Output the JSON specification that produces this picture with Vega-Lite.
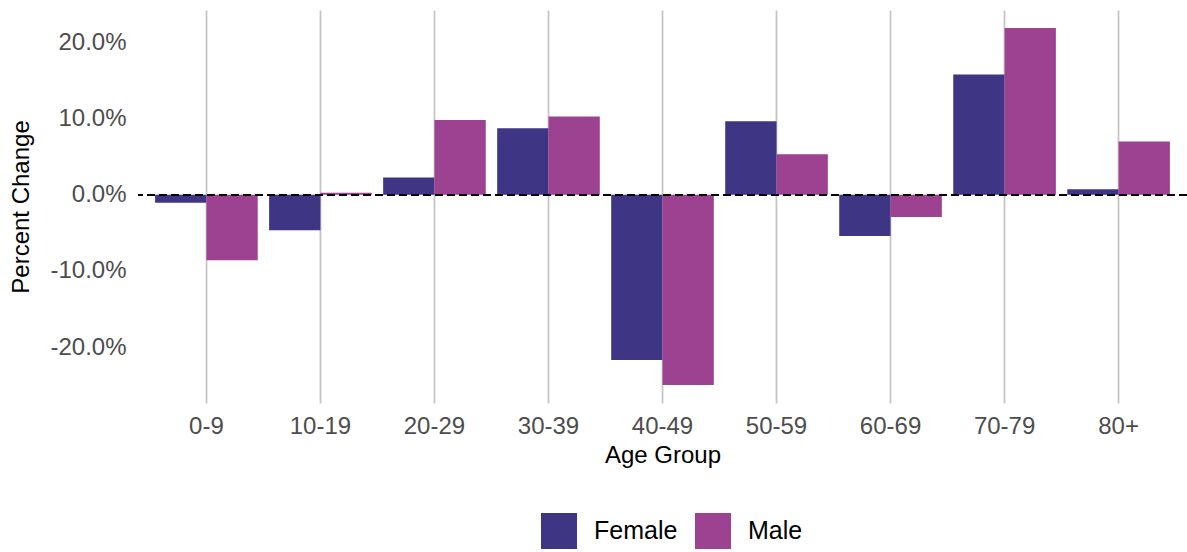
{
  "$schema": "https://vega.github.io/schema/vega-lite/v6.json",
  "width": 1049,
  "height": 393,
  "autosize": {"type": "none"},
  "padding": {"left": 138, "top": 10, "right": 0, "bottom": 149},
  "background": "white",
  "config": {"view": {"stroke": null}, "font": "Liberation Sans"},
  "data": {
    "values": [
      {"age": "0-9", "sex": "Female", "change": -0.0106},
      {"age": "0-9", "sex": "Male", "change": -0.086},
      {"age": "10-19", "sex": "Female", "change": -0.0468},
      {"age": "10-19", "sex": "Male", "change": 0.0026},
      {"age": "20-29", "sex": "Female", "change": 0.0227},
      {"age": "20-29", "sex": "Male", "change": 0.098},
      {"age": "30-39", "sex": "Female", "change": 0.0873},
      {"age": "30-39", "sex": "Male", "change": 0.1026},
      {"age": "40-49", "sex": "Female", "change": -0.217},
      {"age": "40-49", "sex": "Male", "change": -0.25},
      {"age": "50-59", "sex": "Female", "change": 0.0965},
      {"age": "50-59", "sex": "Male", "change": 0.0532},
      {"age": "60-69", "sex": "Female", "change": -0.0542},
      {"age": "60-69", "sex": "Male", "change": -0.0294},
      {"age": "70-79", "sex": "Female", "change": 0.1577},
      {"age": "70-79", "sex": "Male", "change": 0.219},
      {"age": "80+", "sex": "Female", "change": 0.0073},
      {"age": "80+", "sex": "Male", "change": 0.0699}
    ]
  },
  "layer": [
    {
      "mark": {"type": "bar"},
      "encoding": {
        "x": {
          "field": "age",
          "type": "nominal",
          "sort": ["0-9", "10-19", "20-29", "30-39", "40-49", "50-59", "60-69", "70-79", "80+"],
          "scale": {"paddingInner": 0.1, "paddingOuter": 0.15},
          "axis": {
            "title": "Age Group",
            "labelAngle": 0,
            "grid": true,
            "gridColor": "#c6c6c6",
            "gridWidth": 1.8,
            "bandPosition": 0.5,
            "ticks": false,
            "tickSize": 0,
            "domain": false,
            "labelPadding": 11,
            "labelFontSize": 24,
            "labelColor": "#4d4d4d",
            "titleFontSize": 24,
            "titleColor": "black",
            "titleFontWeight": "normal",
            "titlePadding": 5
          }
        },
        "xOffset": {"field": "sex", "type": "nominal", "sort": ["Female", "Male"]},
        "y": {
          "field": "change",
          "type": "quantitative",
          "scale": {"domain": [-0.2735, 0.2425], "nice": false},
          "axis": {
            "title": "Percent Change",
            "values": [-0.2, -0.1, 0, 0.1, 0.2],
            "labelExpr": "(datum.value < 0 ? '-' : '') + format(abs(datum.value), '.1%')",
            "grid": false,
            "ticks": false,
            "tickSize": 0,
            "domain": false,
            "labelPadding": 12,
            "labelFontSize": 24,
            "labelColor": "#4d4d4d",
            "titleFontSize": 24,
            "titleColor": "black",
            "titleFontWeight": "normal",
            "titlePadding": 16
          }
        },
        "color": {
          "field": "sex",
          "type": "nominal",
          "scale": {"domain": ["Female", "Male"], "range": ["#3E3584", "#9C4290"]},
          "legend": {
            "title": null,
            "orient": "none",
            "direction": "horizontal",
            "legendX": 403,
            "legendY": 503,
            "padding": 0,
            "symbolType": "square",
            "symbolSize": 1296,
            "symbolStrokeWidth": 0,
            "symbolOpacity": 1,
            "labelFontSize": 25,
            "labelColor": "black",
            "labelOffset": 17,
            "columnPadding": 17
          }
        }
      }
    },
    {
      "mark": {"type": "rule", "strokeDash": [8, 4], "color": "black", "strokeWidth": 1.3},
      "encoding": {"y": {"datum": 0}}
    }
  ]
}
